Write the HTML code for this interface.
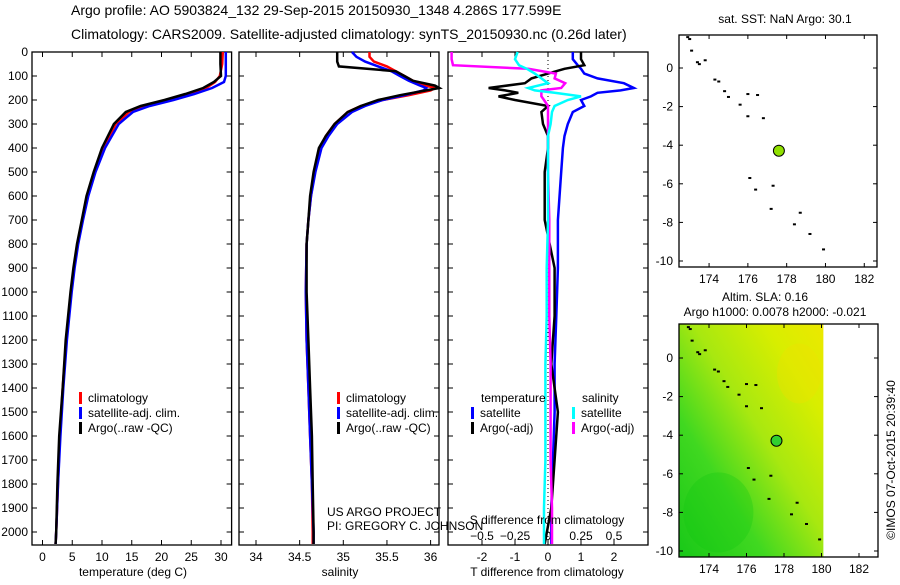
<!DOCTYPE html>
<html><head><meta charset="utf-8"><style>
body{margin:0;background:#fff;}
svg text{font-family:"Liberation Sans",sans-serif;fill:#000;}
</style></head><body>
<svg id="c" width="900" height="580" xmlns="http://www.w3.org/2000/svg">
<defs>
<linearGradient id="slaGrad" x1="0" y1="1" x2="1" y2="0">
<stop offset="0" stop-color="#18c818"/><stop offset="0.3" stop-color="#40d820"/><stop offset="0.55" stop-color="#a8e810"/><stop offset="0.8" stop-color="#d8ee00"/><stop offset="1" stop-color="#ece800"/>
</linearGradient>
</defs>
<text x="71" y="15" font-size="14">Argo profile: AO 5903824_132 29-Sep-2015 20150930_1348 4.286S 177.599E</text>
<text x="71" y="39" font-size="14">Climatology: CARS2009. Satellite-adjusted climatology: synTS_20150930.nc (0.26d later)</text>
<g id="g"></g>
</svg>
<script>
// ---- data ----
const tDepth = [0,50,100,125,150,175,200,225,250,300,400,500,600,700,800,900,1000,1200,1400,1600,1800,2000,2050];
const tClim  = [30.3,30.2,29.8,29.0,27.5,24.5,21,17,14.5,12.3,10.2,8.8,7.6,6.7,5.9,5.3,4.8,4.0,3.4,2.9,2.6,2.3,2.2];
const tSat   = [30.8,30.8,30.8,30.5,28.5,25.5,22,18,15.2,12.8,10.5,8.9,7.7,6.8,6.0,5.4,4.9,4.1,3.5,3.0,2.6,2.3,2.2];
const tArgo  = [29.9,29.9,30.0,28.8,27.0,24.0,20.5,16.5,14.0,12.0,10.0,8.6,7.4,6.6,5.8,5.2,4.7,3.9,3.4,2.8,2.5,2.3,2.2];
const sDepth = [0,20,40,60,80,100,120,140,150,160,180,200,225,250,300,350,400,500,600,700,800,1000,1200,1400,1600,1800,2000,2050];
const sClim  = [35.3,35.3,35.35,35.5,35.6,35.7,35.8,35.95,36.05,36.0,35.75,35.45,35.2,35.05,34.9,34.8,34.73,34.67,34.63,34.6,34.58,34.57,34.58,34.6,34.62,34.64,34.65,34.65];
const sSat   = [35.1,35.15,35.25,35.4,35.55,35.65,35.75,35.88,35.95,35.92,35.7,35.45,35.25,35.1,34.93,34.83,34.75,34.68,34.63,34.6,34.58,34.57,34.58,34.6,34.62,34.64,34.66,34.66];
const sArgo  = [34.93,34.93,34.93,34.95,35.6,35.7,35.8,36.05,36.1,35.95,35.65,35.4,35.2,35.05,34.9,34.8,34.72,34.66,34.62,34.6,34.58,34.58,34.6,34.62,34.64,34.65,34.66,34.66];
const dDepth = [0,30,55,70,90,110,130,150,160,170,185,200,225,250,300,350,400,500,700,900,1100,1300,1500,1700,1900,2050];
const dTSat  = [0.75,0.75,0.9,1.0,1.1,1.5,2.3,2.6,2.2,1.5,1.3,1.0,1.1,0.75,0.6,0.5,0.45,0.4,0.3,0.3,0.25,0.2,0.2,0.15,0.1,0.1];
const dTArgo = [1.0,1.0,1.1,0.5,0.0,-0.5,-0.7,-1.8,-1.3,-0.9,-1.5,-1.0,0.0,-0.2,-0.15,0.0,0.0,-0.1,-0.1,0.2,0.2,0.1,0.3,0.2,0.1,-0.1];
const dSSat  = [-0.23,-0.25,-0.22,-0.16,-0.1,-0.05,0.0,-0.15,-0.1,0.05,0.25,0.15,0.05,0.03,0.02,0.0,0.0,0.0,0.0,-0.01,-0.01,-0.02,-0.02,-0.02,-0.03,-0.03];
const dSArgo = [-0.73,-0.73,-0.72,-0.15,0.06,0.05,0.13,0.1,-0.05,-0.05,-0.05,-0.03,0.0,0.0,0.0,0.0,0.0,0.0,0.01,0.01,0.01,0.02,0.02,0.02,0.03,0.03];
const coastLon = [173.0,173.1,173.4,173.5,173.8,174.3,174.5,174.8,175.0,175.6,176.0,176.5,176.0,176.8,176.1,176.4,177.3,177.2,178.7,178.4,179.2,179.9,172.9];
const coastLat = [1.5,0.9,0.3,0.2,0.4,-0.6,-0.7,-1.2,-1.5,-1.9,-1.35,-1.4,-2.5,-2.6,-5.7,-6.3,-6.1,-7.3,-7.5,-8.1,-8.6,-9.4,1.6];
const argoLon = [177.599];
const argoLat = [-4.286];
const depthTicks = [0,100,200,300,400,500,600,700,800,900,1000,1100,1200,1300,1400,1500,1600,1700,1800,1900,2000];
const tTicks = [0,5,10,15,20,25,30];
const sTicks = [34,34.5,35,35.5,36];
const dTTicks = [-2,-1,0,1,2];
const dSTickLabels = ['−0.5','−0.25','0','0.25','0.5'];
const dSTicks = [-0.5,-0.25,0,0.25,0.5];
const latTicks = [0,-2,-4,-6,-8,-10];
const lonTicks = [174,176,178,180,182];

const NS='http://www.w3.org/2000/svg';
const G=document.getElementById('g');
function el(tag,attrs,parent){const e=document.createElementNS(NS,tag);for(const k in attrs)e.setAttribute(k,attrs[k]);(parent||G).appendChild(e);return e;}
function txt(x,y,s,size,anchor,parent){const t=el('text',{x:x,y:y,'font-size':size,'text-anchor':anchor||'middle'},parent);t.textContent=s;return t;}

const Y0=52, PY=0.24, YB=545;
const yD=d=>Y0+d*PY;
const xT=v=>42.5+v*5.95;
const xS=v=>256+(v-34)*87.3;
const xDT=v=>548+v*33;
const xDS=v=>548+v*132;

function frame(x0,x1,name){
  const r=el('rect',{x:x0,y:Y0,width:x1-x0,height:YB-Y0,fill:'none',stroke:'#000','stroke-width':1.3});
  
  
  depthTicks.forEach(d=>{el('line',{x1:x0,x2:x0+5,y1:yD(d),y2:yD(d),stroke:'#000'});el('line',{x1:x1-5,x2:x1,y1:yD(d),y2:yD(d),stroke:'#000'});});
}
function xticks(vals,f,labels,name){
  vals.forEach((v,i)=>{const x=f(v);el('line',{x1:x,x2:x,y1:Y0,y2:Y0+5,stroke:'#000'});el('line',{x1:x,x2:x,y1:YB-5,y2:YB,stroke:'#000'});
    const t=txt(x,561,labels?labels[i]:String(v),12);
    
    });
}
function line(depths,vals,fx,color,w,name){
  const p=el('polyline',{points:depths.map((d,i)=>fx(vals[i]).toFixed(1)+','+yD(d).toFixed(1)).join(' '),fill:'none',stroke:color,'stroke-width':w});
  
  
}
// panel 1
frame(32,231.6,'temperature-panel');
depthTicks.forEach(d=>{const t=txt(28,yD(d)+4,String(d),12,'end');
  
  });
xticks(tTicks,xT,null,'temperature-tick-label');
line(tDepth,tClim,xT,'#f00',2.5,'temperature-climatology-line');
line(tDepth,tSat,xT,'#00f',2.5,'temperature-satellite-line');
line(tDepth,tArgo,xT,'#000',2.5,'temperature-argo-line');
let t=txt(133,576,'temperature (deg C)',12);


// panel 2
frame(239,439,'salinity-panel');
xticks(sTicks,xS,null,'salinity-tick-label');
line(sDepth,sClim,xS,'#f00',2.5,'salinity-climatology-line');
line(sDepth,sSat,xS,'#00f',2.5,'salinity-satellite-line');
line(sDepth,sArgo,xS,'#000',2.5,'salinity-argo-line');
t=txt(340,576,'salinity',12);


t=txt(327,516,'US ARGO PROJECT',12,'start');


t=txt(327,530,'PI: GREGORY C. JOHNSON',12,'start');


// legends
function legend(x,y,color,label,name){
  el('rect',{x:x,y:y-10,width:3,height:12,fill:color});
  const tt=txt(x+9,y,label,12,'start');
  
  
}
[[0,'climatology','#f00'],[1,'satellite-adj. clim.','#00f'],[2,'Argo(..raw -QC)','#000']].forEach(a=>{
  legend(79,402+a[0]*15,a[2],a[1],'legend-entry');
  legend(337,402+a[0]*15,a[2],a[1],'legend-entry');
});
// panel 3
frame(448,648,'difference-panel');
el('line',{x1:548,x2:548,y1:Y0,y2:YB,stroke:'#000','stroke-dasharray':'1,3'});
xticks(dTTicks,xDT,null,'t-diff-tick-label');
dSTicks.forEach((v,i)=>{const tt=txt(xDS(v),540,dSTickLabels[i],12);
  
  });
line(dDepth,dTSat,xDT,'#00f',2.5,'t-diff-satellite-line');
line(dDepth,dTArgo,xDT,'#000',2.5,'t-diff-argo-line');
line(dDepth,dSArgo,xDS,'#f0f',2.5,'s-diff-argo-line');
line(dDepth,dSSat,xDS,'#0ff',2.5,'s-diff-satellite-line');
t=txt(547,576,'T difference from climatology',12);


t=txt(547,524,'S difference from climatology',12);


t=txt(481,402,'temperature',12,'start');


t=txt(582,402,'salinity',12,'start');


legend(471,417,'#00f','satellite','legend-entry');
legend(471,432,'#000','Argo(-adj)','legend-entry');
legend(572,417,'#0ff','satellite','legend-entry');
legend(572,432,'#f0f','Argo(-adj)','legend-entry');

// maps
function map(x0,x1,y0,y1,lon0,pxLon,lat0y,pxLat,name,sla){
  const fx=v=>x0+(v-lon0)*pxLon, fy=v=>lat0y-v*pxLat;
  if(sla){
    const r=el('rect',{x:x0,y:y0,width:fx(180.1)-x0,height:y1-y0,fill:'url(#slaGrad)'});
    
    
    el('ellipse',{cx:fx(178.8),cy:fy(-0.8),rx:22,ry:30,fill:'#f0e000',opacity:0.35});
    el('ellipse',{cx:fx(174.5),cy:fy(-8),rx:35,ry:40,fill:'#10c810',opacity:0.3});
  }
  const f=el('rect',{x:x0,y:y0,width:x1-x0,height:y1-y0,fill:'none',stroke:'#000','stroke-width':1.3});
  
  
  latTicks.forEach(v=>{const y=fy(v);el('line',{x1:x0,x2:x0+4,y1:y,y2:y,stroke:'#000'});el('line',{x1:x1-4,x2:x1,y1:y,y2:y,stroke:'#000'});
    const tt=txt(x0-6,y+4,String(v),12,'end');
    
    });
  lonTicks.forEach(v=>{const x=fx(v);el('line',{x1:x,x2:x,y1:y0,y2:y0+4,stroke:'#000'});el('line',{x1:x,x2:x,y1:y1-4,y2:y1,stroke:'#000'});
    const tt=txt(x,y1+16,String(v),12);
    
    });
  coastLon.forEach((v,i)=>{const c=el('rect',{x:fx(v)-1.5,y:fy(coastLat[i])-1,width:3,height:2,fill:'#000'});
    
    });
  argoLon.forEach((v,i)=>{const c=el('circle',{cx:fx(v),cy:fy(argoLat[i]),r:5.5,fill:sla?'#30d030':'#90e000',stroke:'#000'});
    
    });
}
map(679,877,35,267,172.45,19.4,68,19.3,'sst-map',false);
map(679,878,324,557,172.4,18.75,358,19.3,'sla-map',true);
t=txt(785,23,'sat. SST: NaN Argo: 30.1',12);


t=txt(765,301,'Altim. SLA: 0.16',12);


t=txt(775,316,'Argo h1000: 0.0078 h2000: -0.021',12);


t=txt(0,0,'©IMOS 07-Oct-2015 20:39:40',12);
t.setAttribute('transform','translate(895,460) rotate(-90)');


</script>
</body></html>
